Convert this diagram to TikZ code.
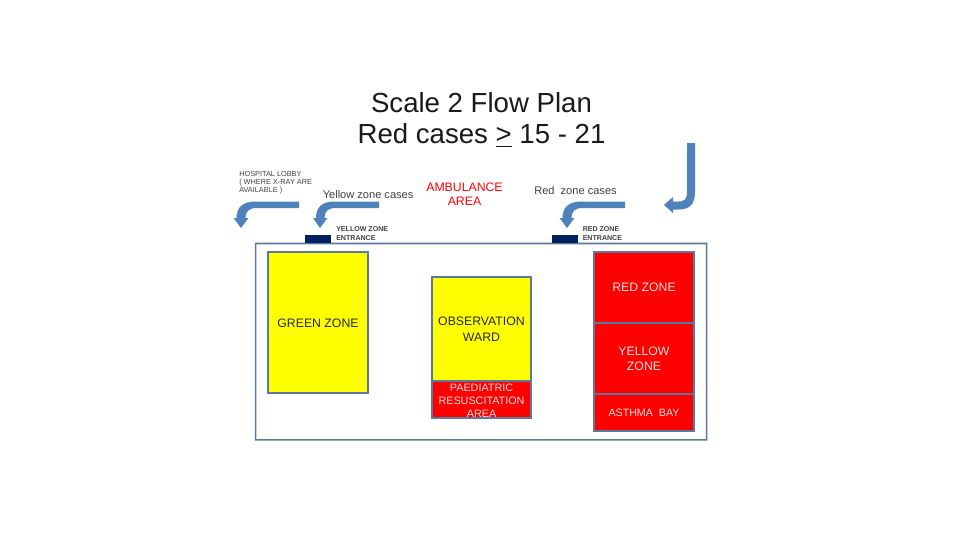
\documentclass[tikz,border=0pt]{standalone}
\usepackage{fontspec}
\setmainfont{Liberation Sans}
\definecolor{arrowblue}{HTML}{4F81BD}
\definecolor{edgeblue}{HTML}{5A78A0}
\definecolor{navy}{HTML}{002060}
\definecolor{zonered}{HTML}{FF0000}
\definecolor{zoneyellow}{HTML}{FFFF00}
\newcommand{\fs}[1]{\fontsize{#1}{#1}\selectfont}
\tikzset{
  zonebox/.style={draw=edgeblue,line width=0.9pt,inner sep=0pt,outer sep=0pt,align=center,anchor=north west,font=\fs{9.2}},
  yellowbox/.style={zonebox,fill=zoneyellow,text=black!85},
  redbox/.style={zonebox,fill=zonered,text=white!88!red},
  entrancebox/.style={fill=navy,inner sep=0pt,outer sep=0pt,anchor=north west,minimum width=19.5pt,minimum height=6pt},
  smalllabel/.style={align=left,anchor=west,inner sep=0pt,text=black!75},
  flowarrow/.style={fill=arrowblue,draw=none}
}
\begin{document}
\begin{tikzpicture}[x=0.75pt,y=-0.75pt]
\useasboundingbox (0,0) rectangle (960,540);
\node[inner sep=0pt,align=center,font=\fs{20.7},text=black!90] (title) at (481.5,119.5) {Scale 2 Flow Plan\\[3pt]Red cases \underline{>} 15 - 21};
\fill[edgeblue,even odd rule] (254.8,242.7) rectangle (707.4,440.7) (256.4,244.3) rectangle (705.8,439.1);
\node[entrancebox] (yentry) at (305,235) {};
\node[entrancebox] (rentry) at (552,235) {};
\node[yellowbox,minimum width=75pt,minimum height=105.75pt] (green) at (268,252) {\rule{0pt}{8.2pt}GREEN ZONE};
\node[yellowbox,minimum width=74.25pt,minimum height=78pt] (obs) at (432,277) {OBSERVATION\\[2.5pt]WARD};
\node[redbox,minimum width=74.25pt,minimum height=27.75pt,font=\fs{8.1}] (paed) at (432,381) {\rule{0pt}{7.5pt}PAEDIATRIC\\[1.5pt]RESUSCITATION\\[1.5pt]AREA};
\node[redbox,minimum width=75pt,minimum height=53.25pt] (redz) at (594,252) {RED ZONE};
\node[redbox,minimum width=75pt,minimum height=53.25pt] (yelz) at (594,323) {YELLOW\\[2pt]ZONE};
\node[redbox,minimum width=75pt,minimum height=27.75pt,font=\fs{8}] (asth) at (594,394) {ASTHMA\ \ BAY};
\node[smalllabel,font=\fs{5.5}] (lobby) at (239,182.5) {HOSPITAL LOBBY\\[0.4pt]( WHERE X-RAY ARE\\[0.4pt]AVAILABLE )};
\node[smalllabel,font=\fs{8.3}] (ycases) at (322.5,195) {Yellow zone cases};
\node[smalllabel,font=\fs{8.3}] (rcases) at (534,191) {Red\ \ zone cases};
\node[inner sep=0pt,align=center,font=\fs{9.2},text=zonered] (amb) at (464.5,194) {AMBULANCE\\[1pt]AREA};
\node[smalllabel,font=\bfseries\fs{5.3}] (ylabel) at (336,233.5) {YELLOW ZONE\\[1pt]ENTRANCE};
\node[smalllabel,font=\bfseries\fs{5.3}] (rlabel) at (582.5,233.5) {RED ZONE\\[1pt]ENTRANCE};
% flow arrows
\fill[flowarrow] (299,201.5) -- (299,208) -- (257,208) .. controls (249,208) and (245.5,211) .. (245.5,218) -- (248.5,218) -- (241,228) -- (233.5,218) -- (236.5,218) .. controls (236.5,207) and (243,201.5) .. (256,201.5) -- cycle;
\fill[flowarrow] (379,201.5) -- (379,208) -- (336,208) .. controls (328,208) and (324.5,211) .. (324.5,218) -- (327.5,218) -- (320,228) -- (313,218) -- (316,218) .. controls (316,207) and (322,201.5) .. (335,201.5) -- cycle;
\fill[flowarrow] (625,201.5) -- (625,208) -- (583,208) .. controls (575,208) and (571.5,211) .. (571.5,218) -- (574.5,218) -- (567,228) -- (559.5,218) -- (562.5,218) .. controls (562.5,207) and (569,201.5) .. (582,201.5) -- cycle;
\fill[flowarrow] (687,143) -- (695,143) -- (695,192) .. controls (695,205) and (689,209.5) .. (678,209.5) -- (673,209.5) -- (673,213) -- (664,205) -- (673,197) -- (673,201.5) -- (678,201.5) .. controls (685,201.5) and (687,199) .. (687,192) -- cycle;
\end{tikzpicture}
\end{document}
